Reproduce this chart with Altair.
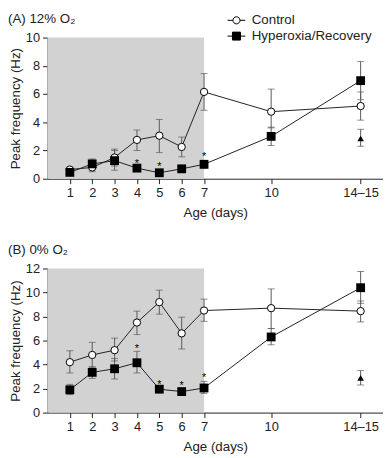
import altair as alt
import pandas as pd

FONT = "Liberation Sans"

days = [1, 2, 3, 4, 5, 6, 7, 10, 14]
groups = ["Control", "Hyperoxia/Recovery"]

# Panel A: 12% O2
a_ctrl = [0.65, 0.8, 1.5, 2.75, 3.05, 2.25, 6.15, 4.75, 5.15]
a_ctrl_lo = [0.55, 0.5, 0.9, 2.0, 1.85, 1.55, 4.85, 3.6, 4.15]
a_ctrl_hi = [0.75, 1.1, 2.1, 3.45, 4.2, 2.95, 7.45, 6.35, 6.15]
a_hyp = [0.45, 1.05, 1.28, 0.75, 0.42, 0.7, 1.02, 3.0, 6.95]
a_hyp_lo = [0.35, 0.7, 0.6, 0.6, 0.3, 0.6, 0.75, 2.35, 5.6]
a_hyp_hi = [0.55, 1.4, 2.0, 0.9, 0.55, 0.8, 1.3, 3.65, 8.3]
a_tri = [2.85]
a_tri_lo = [2.3]
a_tri_hi = [3.5]
a_star_days = [4, 5, 7]
a_star_y = [1.05, 0.8, 1.55]

# Panel B: 0% O2
b_ctrl = [4.2, 4.8, 5.2, 7.5, 9.2, 6.6, 8.5, 8.7, 8.45]
b_ctrl_lo = [3.3, 3.8, 4.3, 6.5, 8.2, 5.3, 7.6, 7.0, 7.55]
b_ctrl_hi = [5.15, 5.85, 6.2, 8.45, 10.2, 7.95, 9.45, 10.3, 9.3]
b_hyp = [1.9, 3.35, 3.65, 4.15, 1.95, 1.75, 2.05, 6.3, 10.4]
b_hyp_lo = [1.5, 2.85, 2.8, 3.3, 1.8, 1.6, 1.6, 5.65, 9.1]
b_hyp_hi = [2.35, 3.8, 4.5, 5.1, 2.1, 1.9, 2.6, 7.0, 11.75]
b_tri = [2.9]
b_tri_lo = [2.3]
b_tri_hi = [3.5]
b_star_days = [4, 5, 6, 7]
b_star_y = [5.3, 2.3, 2.2, 2.85]

tri_day = [14]
shade_start = [0]
shade_end = [7]
panel_titles = ["(A) 12% O₂", "(B) 0% O₂"]

ctrl_path = "M-1,0L-0.4,0M0.4,0L1,0M0.4,0A0.4,0.4 0 1 1 -0.4,0A0.4,0.4 0 1 1 0.4,0"
hyp_path = "M-1,0L1,0M-0.45,-0.45L0.45,-0.45L0.45,0.45L-0.45,0.45Z"

XW = 340
ERR = "#5a5a5a"


def panel(ctrl, ctrl_lo, ctrl_hi, hyp, hyp_lo, hyp_hi, tri, tri_lo, tri_hi,
          star_days, star_y, ymax, title, show_legend, height):
    rows = []
    for g, v, lo, hi in [(groups[0], ctrl, ctrl_lo, ctrl_hi), (groups[1], hyp, hyp_lo, hyp_hi)]:
        for d, a, b, c in zip(days, v, lo, hi):
            rows.append({"day": d, "group": g, "value": a, "lo": b, "hi": c})
    df = pd.DataFrame(rows)
    tri_df = pd.DataFrame({"day": tri_day, "value": tri, "lo": tri_lo, "hi": tri_hi})
    star_df = pd.DataFrame({"day": star_days, "y": star_y})
    shade_df = pd.DataFrame({"x0": shade_start, "x1": shade_end, "y0": [0], "y1": [ymax]})
    title_df = pd.DataFrame({"label": [title]})

    xscale = alt.Scale(domain=[0, 15], nice=False, zero=False)
    yscale = alt.Scale(domain=[0, ymax], nice=False)
    xaxis = alt.Axis(values=days, labelExpr="datum.value == 14 ? '14–15' : datum.label",
                     title="Age (days)", grid=False, labelOverlap=False)
    yaxis = alt.Axis(values=list(range(0, ymax + 1, 2)), title="Peak frequency (Hz)", grid=False,
                     labelOverlap=False, tickCount=ymax // 2 + 1)

    def X(f):
        return alt.X(f, type="quantitative", scale=xscale, axis=xaxis)

    def Y(f):
        return alt.Y(f, type="quantitative", scale=yscale, axis=yaxis)

    shade = alt.Chart(shade_df).mark_rect(color="#d2d2d2").encode(
        x=X("x0"), x2="x1", y=Y("y0"), y2="y1")
    base = alt.Chart(df)
    lines = base.mark_line(color="#222", strokeWidth=1).encode(
        x=X("day"), y=Y("value"), detail="group:N", order="day:Q")
    err = base.mark_rule(color=ERR, strokeWidth=1).encode(x=X("day"), y=Y("lo"), y2="hi")
    cap_lo = base.mark_tick(orient="horizontal", color=ERR, size=7, thickness=1).encode(
        x=X("day"), y=Y("lo"))
    cap_hi = base.mark_tick(orient="horizontal", color=ERR, size=7, thickness=1).encode(
        x=X("day"), y=Y("hi"))
    pts_c = base.transform_filter(alt.datum.group == groups[0]).mark_point(
        shape="circle", filled=True, fill="white", stroke="black", strokeWidth=1, size=55, opacity=1
    ).encode(x=X("day"), y=Y("value"))
    pts_h = base.transform_filter(alt.datum.group == groups[1]).mark_square(
        color="black", size=80, opacity=1).encode(x=X("day"), y=Y("value"))
    tbase = alt.Chart(tri_df)
    terr = tbase.mark_rule(color=ERR).encode(x=X("day"), y=Y("lo"), y2="hi")
    tcap1 = tbase.mark_tick(orient="horizontal", color=ERR, size=7, thickness=1).encode(x=X("day"), y=Y("lo"))
    tcap2 = tbase.mark_tick(orient="horizontal", color=ERR, size=7, thickness=1).encode(x=X("day"), y=Y("hi"))
    tpt = tbase.mark_point(shape="triangle-up", filled=True, color="black", size=45, opacity=1).encode(
        x=X("day"), y=Y("value"))
    stars = alt.Chart(star_df).mark_text(text="*", font=FONT, fontSize=11, baseline="middle",
                                         color="black").encode(x=X("day"), y=Y("y"))
    ptitle = alt.Chart(title_df).mark_text(align="left", baseline="middle", font=FONT, fontSize=13.5,
                                           color="#222").encode(
        text="label:N", x=alt.value(-40), y=alt.value(-19))
    layers = [shade, lines, err, cap_lo, cap_hi, terr, tcap1, tcap2, pts_c, pts_h, tpt, stars, ptitle]
    if show_legend:
        leg_props = dict(title=None, orient="none", legendX=182, legendY=-27,
                         symbolSize=324, symbolOpacity=1, symbolStrokeWidth=1,
                         labelFontSize=13.5, labelFont=FONT, labelOffset=6, rowPadding=0,
                         labelColor="#222")
        leg = base.transform_filter("false").mark_point(
            opacity=1, strokeWidth=1, filled=False).encode(
            x=X("day"), y=Y("value"),
            shape=alt.Shape("group:N", scale=alt.Scale(domain=groups, range=[ctrl_path, hyp_path]),
                            legend=alt.Legend(**leg_props)),
            fill=alt.Fill("group:N", scale=alt.Scale(domain=groups, range=["white", "black"]),
                          legend=alt.Legend(**leg_props)),
            stroke=alt.Stroke("group:N", scale=alt.Scale(domain=groups, range=["black", "black"]),
                              legend=alt.Legend(**leg_props)),
        )
        layers.append(leg)
    return alt.layer(*layers).properties(width=XW, height=height)


pa = panel(a_ctrl, a_ctrl_lo, a_ctrl_hi, a_hyp, a_hyp_lo, a_hyp_hi, a_tri, a_tri_lo, a_tri_hi,
           a_star_days, a_star_y, 10, panel_titles[0], True, 143)
pb = panel(b_ctrl, b_ctrl_lo, b_ctrl_hi, b_hyp, b_hyp_lo, b_hyp_hi, b_tri, b_tri_lo, b_tri_hi,
           b_star_days, b_star_y, 12, panel_titles[1], False, 146)

chart = alt.vconcat(pa, pb, spacing=24).properties(padding=0).configure_view(stroke=None).configure_axis(
    labelFont=FONT, titleFont=FONT, labelFontSize=13, titleFontSize=13.5, titleFontWeight="normal",
    domainColor="#222", tickColor="#222", labelColor="#222", titleColor="#222", tickSize=5,
    labelPadding=3,
).configure_axisY(titlePadding=3).configure_axisX(titlePadding=6)

chart.save("out.html", embed_options={"renderer": "svg", "actions": False})
